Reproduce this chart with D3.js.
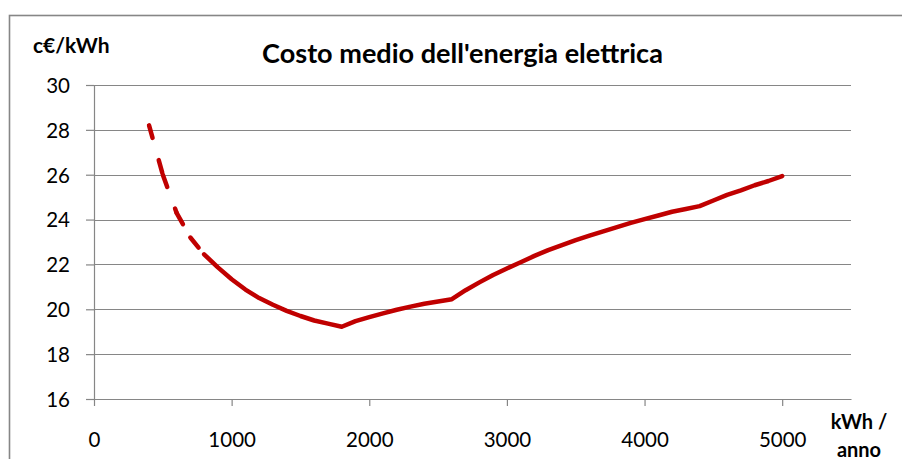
<!DOCTYPE html>
<html>
<head>
<meta charset="utf-8">
<script src="https://cdn.jsdelivr.net/npm/d3@7"></script>
<style>
  html, body { margin: 0; padding: 0; background: #fff; }
  svg { display: block; }
  text { font-family: Lato, "Open Sans", sans-serif; fill: #000; }
</style>
</head>
<body>
<svg id="chart" width="902" height="459"></svg>
<script>
// Consumo annuo (kWh) e costo medio (c€/kWh)
// tratto tratteggiato: consumi bassi
const consumoBasso = [400, 500, 600, 700, 800];
const costoBasso   = [28.2, 26.0, 24.3, 23.2, 22.45];
// tratto continuo
const consumo = [800, 900, 1000, 1100, 1200, 1300, 1400, 1500, 1600, 1700, 1800,
                 1900, 2000, 2100, 2200, 2300, 2400, 2500, 2600, 2700, 2800, 2900,
                 3000, 3100, 3200, 3300, 3400, 3500, 3600, 3700, 3800, 3900, 4000,
                 4100, 4200, 4300, 4400, 4500, 4600, 4700, 4800, 4900, 5000];
const costo   = [22.45, 21.87, 21.34, 20.88, 20.5, 20.2, 19.93, 19.7, 19.5, 19.36, 19.22,
                 19.47, 19.65, 19.82, 19.98, 20.12, 20.25, 20.35, 20.45, 20.85, 21.2, 21.53,
                 21.82, 22.1, 22.38, 22.64, 22.86, 23.08, 23.28, 23.47, 23.66, 23.85, 24.02,
                 24.18, 24.35, 24.47, 24.6, 24.85, 25.1, 25.3, 25.53, 25.72, 25.94];
const xTicks = [0, 1000, 2000, 3000, 4000, 5000];
const yTicks = [16, 18, 20, 22, 24, 26, 28, 30];

const titolo = "Costo medio dell'energia elettrica";
const unitaY = "c€/kWh";
const unitaX = ["kWh /", "anno"];

const svg = d3.select("#chart");
const grey = "#868686";
const red = "#C00000";

// cornice esterna del grafico
svg.append("rect")
  .attr("x", 9.5).attr("y", 15.5)
  .attr("width", 1000).attr("height", 1000)
  .attr("fill", "none").attr("stroke", grey).attr("stroke-width", 1.6);

const x = d3.scaleLinear().domain([0, 5500]).range([94, 851]);
const y = d3.scaleLinear().domain([16, 30]).range([399, 85]);

// griglia orizzontale
svg.append("g").selectAll("line").data(yTicks).join("line")
  .attr("x1", x(0)).attr("x2", x(5500))
  .attr("y1", d => Math.round(y(d)) + 0.5).attr("y2", d => Math.round(y(d)) + 0.5)
  .attr("stroke", grey).attr("stroke-width", 1.2);

// asse Y
const gy = svg.append("g").attr("transform", `translate(${x(0)},0)`)
  .call(d3.axisLeft(y).tickValues(yTicks).tickSizeInner(8).tickSizeOuter(0).tickPadding(16));
gy.selectAll("path, line").attr("stroke", grey).attr("stroke-width", 1.2);
gy.selectAll("text").style("font-size", "20.5px").style("font-family", "Lato, sans-serif")
  .attr("fill", "#000").attr("dy", "0.36em");

// asse X
const gx = svg.append("g").attr("transform", `translate(0,${y(16)})`)
  .call(d3.axisBottom(x).tickValues(xTicks).tickFormat(d3.format("d")).tickSizeInner(7).tickSizeOuter(0));
gx.selectAll("path, line").attr("stroke", grey).attr("stroke-width", 1.2);
gx.selectAll("text").style("font-size", "20.5px").style("font-family", "Lato, sans-serif")
  .attr("fill", "#000").attr("y", 47.5).attr("dy", 0);

// curva: segmenti tratteggiati (motivo ripreso a ogni segmento)
const line = d3.line().x(d => x(d[0])).y(d => y(d[1]));
const basso = consumoBasso.map((c, i) => [c, costoBasso[i]]);
const segs = d3.pairs(basso);
svg.append("g").selectAll("path").data(segs).join("path")
  .attr("d", line)
  .attr("fill", "none").attr("stroke", red).attr("stroke-width", 4.5)
  .attr("stroke-linecap", "round").attr("stroke-dasharray", "13,23");

// curva: tratto continuo
svg.append("path")
  .datum(consumo.map((c, i) => [c, costo[i]]))
  .attr("d", line)
  .attr("fill", "none").attr("stroke", red).attr("stroke-width", 4.5)
  .attr("stroke-linejoin", "round").attr("stroke-linecap", "round");

// titolo
const t = svg.append("text").attr("x", 462.5).attr("y", 63)
  .attr("text-anchor", "middle").style("font-weight", "bold").style("font-size", "25px")
  .text(titolo);
const tw = t.node().getComputedTextLength();
t.style("font-size", (25 * 401 / tw).toFixed(2) + "px");

// unità di misura
svg.append("text").attr("x", 33).attr("y", 53)
  .style("font-weight", "bold").style("font-size", "21px").text(unitaY);

svg.append("g").selectAll("text").data(unitaX).join("text")
  .attr("x", 859).attr("y", (d, i) => 429 + i * 27.5)
  .attr("text-anchor", "middle").style("font-weight", "bold").style("font-size", "20px")
  .text(d => d);
</script>
</body>
</html>
